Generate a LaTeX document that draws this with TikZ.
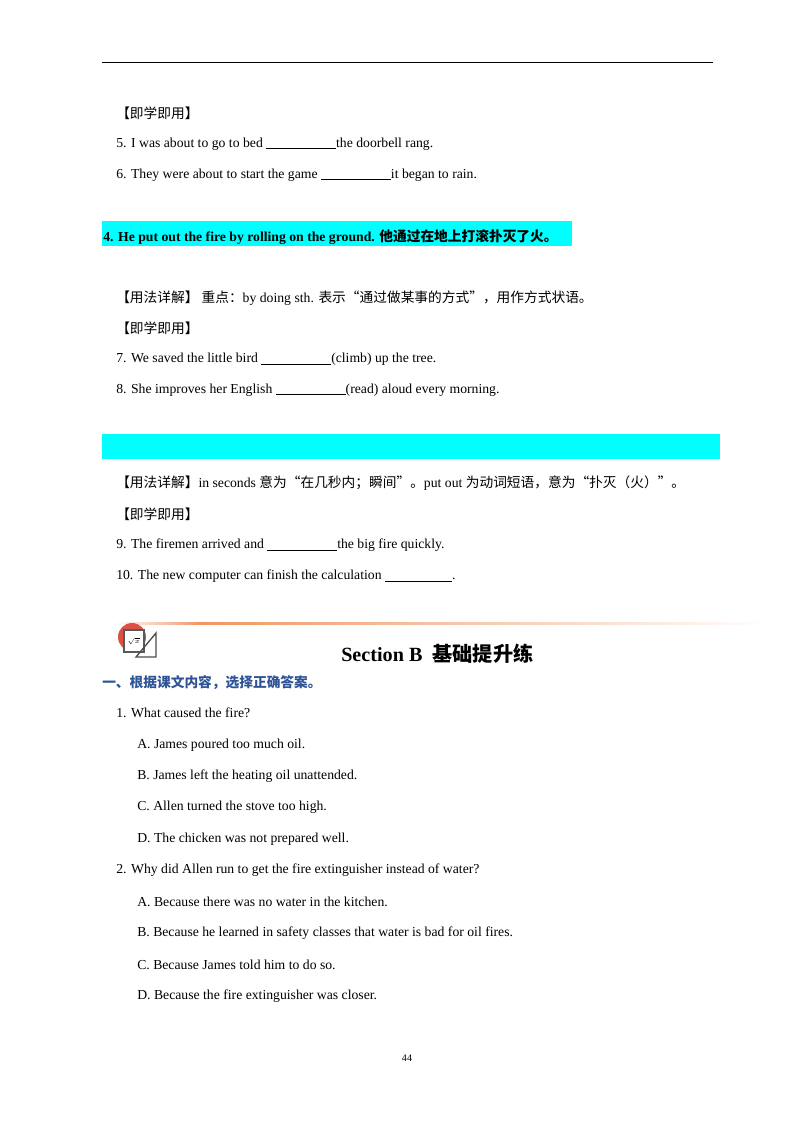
\documentclass[tikz,border=0pt]{standalone}
\usepackage{fontspec}
\setmainfont{Liberation Serif}
\newfontfamily\cjk{Noto Sans CJK SC}
\usetikzlibrary{positioning}
\newcommand{\zh}[1]{{\cjk #1}}
\newcommand{\gap}[1][52pt]{\rule[-1.5pt]{#1}{0.6pt}}
\definecolor{hiCyan}{RGB}{0,255,255}
\definecolor{headBlue}{RGB}{47,84,150}
\definecolor{lineOrange}{RGB}{240,150,100}
\definecolor{iconRed}{RGB}{220,80,70}

\begin{document}
\begin{tikzpicture}[x=0.744pt,y=-0.744pt,
every node/.style = {font=\fontsize{10.2}{12}\selectfont, inner sep=0pt, anchor=west},
title/.style = {font=\fontsize{15}{17}\selectfont\bfseries}
]
\useasboundingbox (0,0) rectangle (800,1132);
\draw[line width=0.5pt] (102,62) -- (713,62);

\node (p1) at (116,113) {\zh{【即学即用】}};
\node (q5) at (116,144) {5. I was about to go to bed \gap the doorbell rang.};
\node (q6) at (116,175) {6. They were about to start the game \gap it began to rain.};

% cyan heading bars
\fill[hiCyan] (102,221) rectangle (572,246);
\node (h4) at (103,237) {\bfseries 4. He put out the fire by rolling on the ground. \zh{他通过在地上打滚扑灭了火。}};

\node (u4) at (116,298) {\zh{【用法详解】\ 重点：}by doing sth. \zh{表示“通过做某事的方式”，用作方式状语。}};
\node (p2) at (116,328) {\zh{【即学即用】}};
\node (q7) at (116,359) {7. We saved the little bird \gap(climb) up the tree.};
\node (q8) at (116,390) {8. She improves her English \gap(read) aloud every morning.};

\fill[hiCyan] (102,434) rectangle (720,459);

\node (u5) at (116,483) {\zh{【用法详解】}in seconds \zh{意为“在几秒内；瞬间”。}put out \zh{为动词短语，意为“扑灭（火）”。}};
\node (p3) at (116,514) {\zh{【即学即用】}};
\node (q9) at (116,545) {9. The firemen arrived and \gap the big fire quickly.};
\node (q10) at (116,576) {10. The new computer can finish the calculation \gap[50pt].};

% section banner
\shade[left color=white, right color=lineOrange] (115,622) rectangle (200,624.5);
\shade[left color=lineOrange, right color=white] (200,622) rectangle (770,624.5);
\fill[iconRed] (132,637) circle (14);
\draw[gray!70!black, line width=0.8pt, fill=white] (124,630) rectangle (144,652);
\node[font=\tiny\bfseries] (icn) at (127,641) {$\sqrt{x}$};
\draw[gray!60!black, line width=1pt] (136,657) -- (156,633) -- (156,657) -- cycle;
\node[title] (secB) at (341,654) {Section B\ \ \zh{基础提升练}};
\node[font=\fontsize{10.2}{12}\selectfont\bfseries, text=headBlue] (h1) at (102,683) {\zh{一、根据课文内容，选择正确答案。}};

\node (r1) at (116,713) {1. What caused the fire?};
\node (r1a) at (137,745) {A. James poured too much oil.};
\node (r1b) at (137,776) {B. James left the heating oil unattended.};
\node (r1c) at (137,807) {C. Allen turned the stove too high.};
\node (r1d) at (137,839) {D. The chicken was not prepared well.};
\node (r2) at (116,870) {2. Why did Allen run to get the fire extinguisher instead of water?};
\node (r2a) at (137,902) {A. Because there was no water in the kitchen.};
\node (r2b) at (137,933) {B. Because he learned in safety classes that water is bad for oil fires.};
\node (r2c) at (137,965) {C. Because James told him to do so.};
\node (r2d) at (137,996) {D. Because the fire extinguisher was closer.};

\node[font=\fontsize{7.5}{9}\selectfont, anchor=center] (pg) at (407,1058) {44};
\end{tikzpicture}
\end{document}
